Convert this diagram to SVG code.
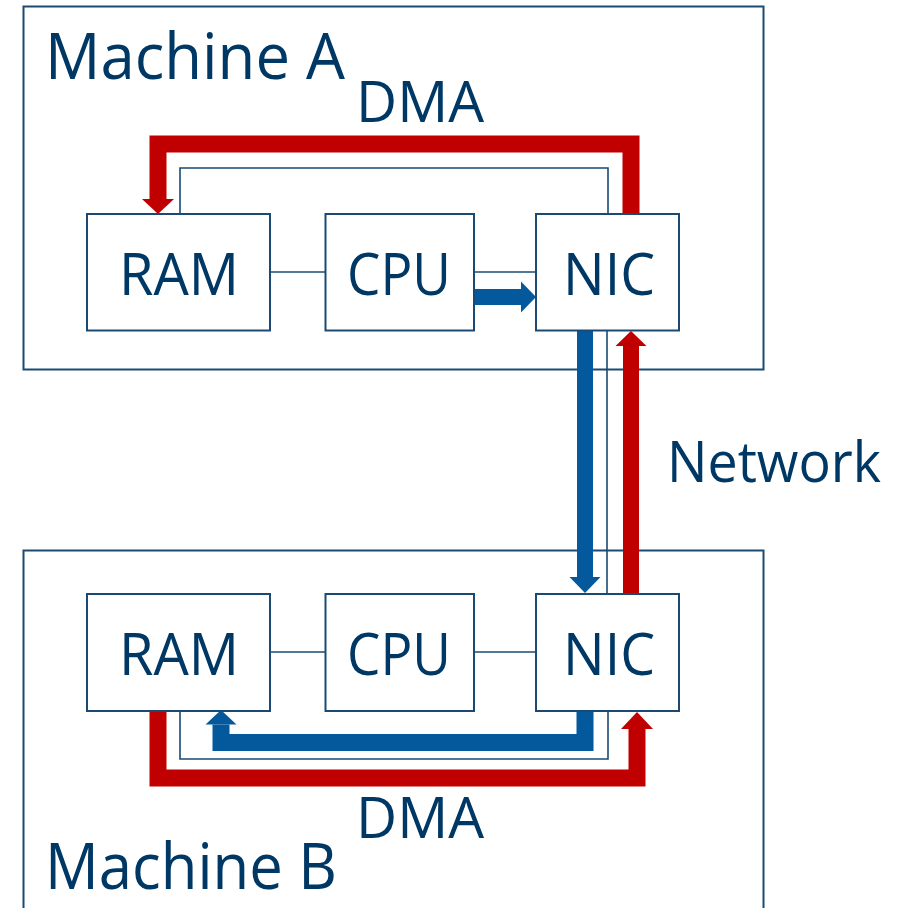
<svg xmlns="http://www.w3.org/2000/svg" width="910" height="908" viewBox="0 0 910 908">
<style>
.frame{fill:#fff;stroke:#1a4a73;stroke-width:2}
.box{fill:#fff;stroke:#1a4a73;stroke-width:2}
.thin{fill:none;stroke:#1a4a73;stroke-width:1.6}
.red{fill:none;stroke:#c00000;stroke-width:17;stroke-linejoin:miter;stroke-linecap:butt}
.blue{fill:none;stroke:#03599b;stroke-width:16;stroke-linejoin:miter;stroke-linecap:butt}
.rh{fill:#c00000}
.bh{fill:#03599b}
text{font-family:"Open Sans","Noto Sans","DejaVu Sans",sans-serif;fill:#003865}
.big{font-size:64px}
.mid{font-size:58px}
.lbl{font-size:56px}
</style>
<rect width="910" height="908" fill="#fff"/>
<g id="machineA">
<rect class="frame" x="23.5" y="6.5" width="740" height="363"/>
<text class="big" x="45" y="79" textLength="300" lengthAdjust="spacingAndGlyphs">Machine A</text>
</g>
<g id="machineB">
<rect class="frame" x="23.5" y="550.5" width="740" height="400"/>
<text class="big" x="45" y="889" textLength="292" lengthAdjust="spacingAndGlyphs">Machine B</text>
</g>
<g id="connectors">
<line class="thin" x1="270" y1="272" x2="325" y2="272"/>
<line class="thin" x1="474" y1="272" x2="536" y2="272"/>
<line class="thin" x1="270" y1="652" x2="325" y2="652"/>
<line class="thin" x1="474" y1="652" x2="536" y2="652"/>
<path class="thin" d="M180 214V168H608V214"/>
<path class="thin" d="M180 711V759H608V711"/>
<line class="thin" x1="607" y1="331" x2="607" y2="594"/>
<path class="red" d="M631 214V144H158V199"/>
<polygon class="rh" points="142,199 174,199 158,214"/>
<path class="red" d="M158 711V778H637V729"/>
<polygon class="rh" points="621,729 653,729 637,712"/>
<path class="blue" d="M474 297H521"/>
<polygon class="bh" points="521,281.5 536,297 521,312.5"/>
<path class="blue" d="M585 331V577"/>
<polygon class="bh" points="569.5,577 600.5,577 585,593"/>
<path class="red" style="stroke-width:16" d="M631 594V346"/>
<polygon class="rh" points="615.5,346 646.5,346 631,331"/>
<path class="blue" style="stroke-width:17" d="M585 711V742.5H221V724.5"/>
<polygon class="bh" points="205.5,724.5 236.5,724.5 221,710"/>
</g>
<g id="ramA">
<rect class="box" x="87" y="214" width="183" height="116.5"/>
<text class="mid" x="119" y="295" textLength="120" lengthAdjust="spacingAndGlyphs">RAM</text>
</g>
<g id="cpuA">
<rect class="box" x="325.5" y="214" width="148.5" height="116.5"/>
<text class="mid" x="347" y="295" textLength="104" lengthAdjust="spacingAndGlyphs">CPU</text>
</g>
<g id="nicA">
<rect class="box" x="536" y="214" width="143" height="116.5"/>
<text class="mid" x="563" y="295" textLength="92" lengthAdjust="spacingAndGlyphs">NIC</text>
</g>
<g id="ramB">
<rect class="box" x="87" y="594" width="183" height="117"/>
<text class="mid" x="119" y="675" textLength="120" lengthAdjust="spacingAndGlyphs">RAM</text>
</g>
<g id="cpuB">
<rect class="box" x="325.5" y="594" width="148.5" height="117"/>
<text class="mid" x="347" y="675" textLength="104" lengthAdjust="spacingAndGlyphs">CPU</text>
</g>
<g id="nicB">
<rect class="box" x="536" y="594" width="143" height="117"/>
<text class="mid" x="563" y="675" textLength="92" lengthAdjust="spacingAndGlyphs">NIC</text>
</g>
<g id="labels">
<text class="lbl" x="356" y="122" textLength="128" lengthAdjust="spacingAndGlyphs">DMA</text>
<text class="lbl" x="356" y="838" textLength="128" lengthAdjust="spacingAndGlyphs">DMA</text>
<text class="lbl" x="667" y="482" textLength="214" lengthAdjust="spacingAndGlyphs">Network</text>
</g>
</svg>
